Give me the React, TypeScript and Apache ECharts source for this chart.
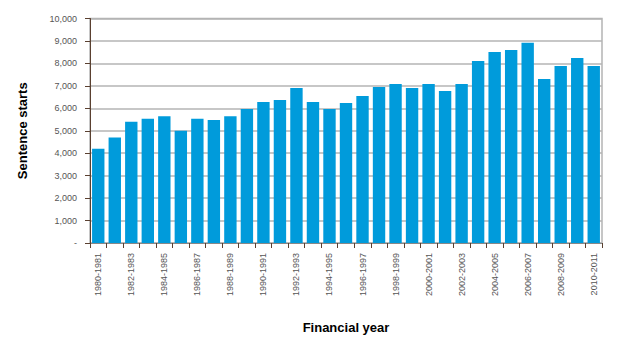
import React, { useEffect, useRef } from "react";
import * as echarts from "echarts";

const categories = [
  "1980-1981", "1981-1982", "1982-1983", "1983-1984", "1984-1985", "1985-1986",
  "1986-1987", "1987-1988", "1988-1989", "1989-1990", "1990-1991", "1991-1992",
  "1992-1993", "1993-1994", "1994-1995", "1995-1996", "1996-1997", "1997-1998",
  "1998-1999", "1999-2000", "2000-2001", "2001-2002", "2002-2003", "2003-2004",
  "2004-2005", "2005-2006", "2006-2007", "2007-2008", "2008-2009", "2009-2010",
  "2010-2011",
];

const sentenceStarts = [
  4200, 4700, 5400, 5530, 5650, 5000, 5530, 5480, 5650, 5970, 6280, 6370,
  6900, 6280, 5970, 6240, 6550, 6950, 7080, 6900, 7080, 6770, 7080, 8110,
  8510, 8600, 8920, 7300, 7880, 8240, 7880,
];

const yAxisTitle = "Sentence starts";
const xAxisTitle = "Financial year";

export default function App() {
  const ref = useRef<HTMLDivElement>(null);
  useEffect(() => {
    if (!ref.current) return;
    const chart = echarts.init(ref.current, undefined, { renderer: "svg" });
    chart.setOption({
      animation: false,
      textStyle: { fontFamily: "Liberation Sans, Arial, sans-serif" },
      grid: {
        left: 90,
        right: 33,
        top: 18.5,
        bottom: 104,
        containLabel: false,
        show: true,
        borderColor: "#b4b4b4",
        borderWidth: 1.5,
      },
      xAxis: {
        type: "category",
        data: categories,
        name: xAxisTitle,
        nameLocation: "middle",
        nameGap: 78,
        nameTextStyle: { fontSize: 13, fontWeight: "bold", color: "#000" },
        axisLine: { show: true, lineStyle: { color: "#888", width: 1 } },
        axisTick: {
          show: true,
          interval: 0,
          alignWithLabel: false,
          length: 5,
          lineStyle: { color: "#5a4030" },
        },
        axisLabel: {
          interval: 1,
          rotate: 90,
          fontSize: 9,
          color: "#555",
          margin: 10,
        },
      },
      yAxis: {
        type: "value",
        min: 0,
        max: 10000,
        interval: 1000,
        name: yAxisTitle,
        nameLocation: "middle",
        nameGap: 61,
        nameTextStyle: { fontSize: 13, fontWeight: "bold", color: "#000" },
        axisLine: { show: true, lineStyle: { color: "#5a4030", width: 1 } },
        axisTick: { show: true, length: 5, lineStyle: { color: "#5a4030" } },
        axisLabel: {
          fontSize: 9,
          color: "#555",
          margin: 13,
          formatter: (v: number) => (v === 0 ? "-" : v.toLocaleString("en-US")),
        },
        splitLine: { show: true, lineStyle: { color: "#b4b4b4", width: 1.5 } },
      },
      series: [
        {
          type: "bar",
          data: sentenceStarts,
          barCategoryGap: "25%",
          itemStyle: { color: "#009bdb" },
        },
      ],
    });
    return () => chart.dispose();
  }, []);
  return <div ref={ref} style={{ width: 635, height: 347, position: "absolute", left: 0, top: 0 }} />;
}
